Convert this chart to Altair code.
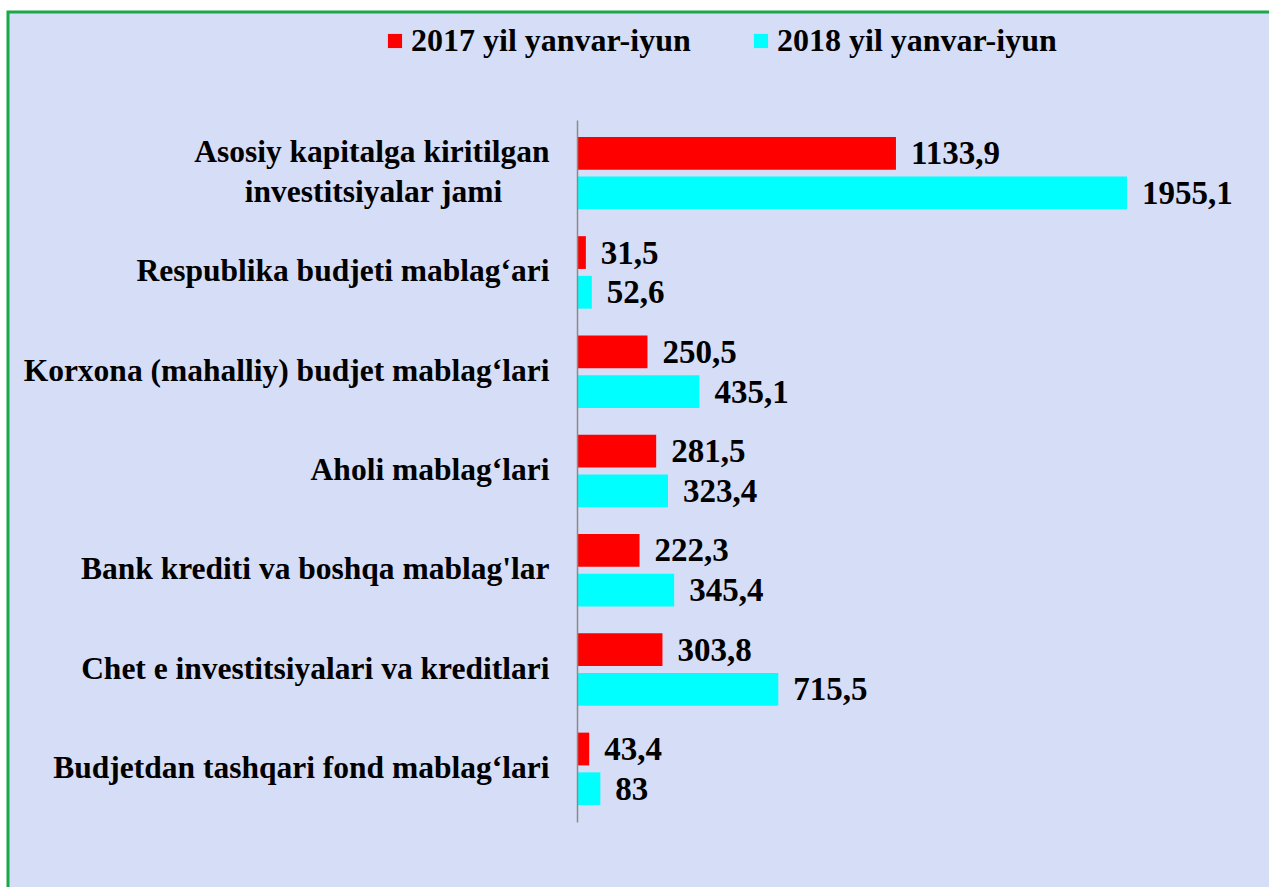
import altair as alt
import pandas as pd

categories = [
    "Asosiy kapitalga kiritilgan|investitsiyalar  jami",
    "Respublika budjeti mablag‘ari",
    "Korxona (mahalliy) budjet mablag‘lari",
    "Aholi mablag‘lari",
    "Bank krediti va boshqa mablag'lar",
    "Chet e investitsiyalari va kreditlari",
    "Budjetdan tashqari fond mablag‘lari",
]
series = ["2017 yil yanvar-iyun", "2018 yil yanvar-iyun"]
values_2017 = [1133.9, 31.5, 250.5, 281.5, 222.3, 303.8, 43.4]
values_2018 = [1955.1, 52.6, 435.1, 323.4, 345.4, 715.5, 83]
colors = ["#ff0000", "#00ffff"]

rows = []
for c, a, b in zip(categories, values_2017, values_2018):
    for s, v in zip(series, [a, b]):
        rows.append({"cat": c, "series": s, "value": v,
                     "label": f"{v:g}".replace(".", ",")})
df = pd.DataFrame(rows)

FONT = "Liberation Serif"

bg = alt.Chart(alt.Data(values=[{"a": 1}])).mark_rect(
    fill="#d6ddf6", stroke="#1aa84a", strokeWidth=3
).encode(
    x=alt.value(-569), x2=alt.value(720),
    y=alt.value(-108), y2=alt.value(800),
)

# second line of the first label is centred under the first in the original
PAD = "\u00a0" * 6 + "\u200b"
label_expr = (
    "indexof(datum.value, '|') >= 0 ? "
    "[split(datum.value, '|')[0], split(datum.value, '|')[1] + '" + PAD + "'] "
    ": datum.value"
)

y_enc = alt.Y(
    "cat:N", sort=categories, title=None,
    scale=alt.Scale(paddingInner=0.27, paddingOuter=0.17),
    axis=alt.Axis(
        labelExpr=label_expr,
        labelFont=FONT, labelFontSize=31.5, labelFontWeight="bold",
        labelColor="black", labelPadding=28, labelLimit=700,
        labelLineHeight=40,
        labelOffset=alt.condition(
            "indexof(datum.value, '|') >= 0", alt.value(-20), alt.value(0)
        ),
        ticks=False, domainColor="#8a8a8a", domainWidth=1.5,
        grid=False, zindex=2,
    ),
)
yoff = alt.YOffset("series:N", sort=series,
                   scale=alt.Scale(paddingInner=0.175, paddingOuter=0))
x_enc = alt.X("value:Q", scale=alt.Scale(domain=[0, 2460]), axis=None)

bars = alt.Chart(df).mark_bar().encode(
    y=y_enc, yOffset=yoff, x=x_enc,
    color=alt.Color(
        "series:N", sort=series,
        scale=alt.Scale(domain=series, range=colors),
        legend=alt.Legend(
            title=None, orient="none", direction="horizontal",
            legendX=-198, legendY=-95,
            symbolType="square", symbolSize=200, symbolStrokeWidth=0,
            labelFont=FONT, labelFontSize=32, labelFontWeight="bold",
            labelColor="black", columnPadding=54, labelOffset=0,
            labelLimit=400, zindex=2,
        ),
    ),
)

texts = alt.Chart(df).mark_text(
    align="left", baseline="middle", dx=15, dy=1, font=FONT, fontSize=33,
    fontWeight="bold", color="black",
).encode(y=y_enc, yOffset=yoff, x=x_enc, text="label:N")

chart = alt.layer(bg, bars, texts).properties(
    width=692, height=702,
    autosize=alt.AutoSizeParams(type="none"),
    padding={"left": 577, "top": 120, "right": 0, "bottom": 65},
    background="white",
).configure_view(stroke=None).configure_legend(
    labelFont=FONT, labelFontWeight="bold", labelFontSize=32
)

chart.save("out.html", embed_options={"renderer": "svg", "actions": False})
